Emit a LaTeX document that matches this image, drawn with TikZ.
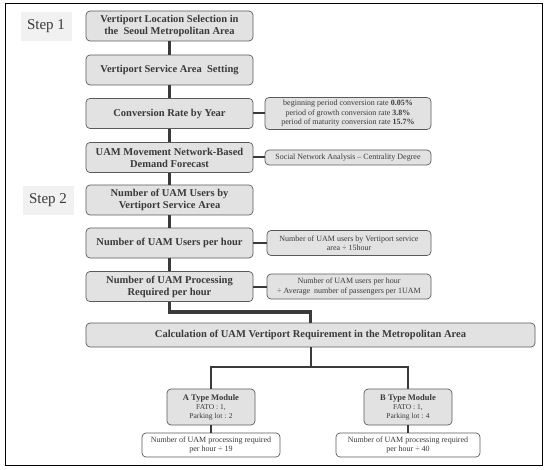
\documentclass[tikz,border=0pt]{standalone}
\usepackage{fontspec}
\setmainfont{Liberation Serif}
\usepackage{tikz}

\definecolor{boxfill}{HTML}{E2E2E2}
\definecolor{boxline}{HTML}{5A5A5A}
\definecolor{linkcol}{HTML}{3A3A3A}
\definecolor{stepfill}{HTML}{F1F1F1}

\begin{document}
\begin{tikzpicture}[
      x = 1pt, y = -1pt,
      every node/.style = {
        draw = boxline, line width = .7pt, rounded corners = 4pt,
        fill = boxfill, align = center, inner sep = 1pt},
      mainbox/.style = {
        minimum width = 167pt, minimum height = 30pt,
        font = \fontsize{10.5}{12}\selectfont\bfseries},
      notebox/.style = {
        minimum width = 166pt, minimum height = 15pt,
        font = \fontsize{8}{9.5}\selectfont},
      stepbox/.style = {
        draw = none, fill = stepfill, rounded corners = 0pt,
        minimum width = 51pt, minimum height = 29pt,
        font = \fontsize{15}{17}\selectfont},
      modbox/.style = {
        minimum width = 88pt, minimum height = 36pt,
        font = \fontsize{7.5}{9}\selectfont},
      resbox/.style = {
        fill = white, minimum height = 24pt,
        font = \fontsize{8}{9.5}\selectfont},
      every path/.style = {linkcol, line width = 2pt}
      ]
    \useasboundingbox (0,0) rectangle (548,470);
    \draw[line width = 1pt, black] (5,4) rectangle (542,465);
    \node[stepbox] (s1) at (46,26.5) {Step 1};
    \node[stepbox] (s2) at (48,200.5) {Step 2};
    \node[mainbox] (b1) at (169.5,26) {Vertiport Location Selection in\\the\ \ Seoul Metropolitan Area}; % 0
    \node[mainbox] (b2) at (169.5,70) {Vertiport Service Area\ \ Setting}; % 1
    \node[mainbox] (b3) at (169.5,113.5) {Conversion Rate by Year}; % 2
    \node[mainbox] (b4) at (169.5,157.5) {UAM Movement Network-Based\\Demand Forecast}; % 3
    \node[mainbox] (b5) at (169.5,200) {Number of UAM Users by\\Vertiport Service Area}; % 4
    \node[mainbox] (b6) at (169.5,243) {Number of UAM Users per hour}; % 5
    \node[mainbox] (b7) at (169.5,286.5) {Number of UAM Processing\\Required per hour}; % 6
    \node[notebox, minimum height = 32pt] (n1) at (348,113.5) {beginning period conversion rate \textbf{0.05\%}\\period of growth conversion rate \textbf{3.8\%}\\period of maturity conversion rate \textbf{15.7\%}};
    \node[notebox] (n2) at (348,157.5) {Social Network Analysis -- Centrality Degree};
    \node[notebox, minimum width = 164pt, minimum height = 25pt] (n3) at (349,243) {Number of UAM users by Vertiport service\\area ÷ 15hour};
    \node[notebox, minimum width = 164pt, minimum height = 25pt] (n4) at (349,286.5) {Number of UAM users per hour\\÷ Average\ \ number of passengers per 1UAM};
    \node[mainbox, minimum width = 449pt, minimum height = 24pt] (calc) at (310.5,335) {Calculation of UAM Vertiport Requirement in the Metropolitan Area};
    \node[modbox] (ma) at (211,407) {\textbf{\fontsize{8.5}{10}\selectfont A Type Module}\\FATO : 1,\\Parking lot : 2};
    \node[modbox] (mb) at (408,407) {\textbf{\fontsize{8.5}{10}\selectfont B Type Module}\\FATO : 1,\\Parking lot : 4};
    \node[resbox, minimum width = 138pt] (ra) at (211,445) {Number of UAM processing required\\per hour ÷ 19};
    \node[resbox, minimum width = 144pt] (rb) at (408,445) {Number of UAM processing required\\per hour ÷ 40};
    \coordinate (j1) at (310.5,312);
    \coordinate (j2) at (310.5,367);
    \begin{scope}[every path/.style={linkcol, line width = 3.5pt}]
      \draw (b1)--(b2);
      \draw (b2)--(b3);
      \draw (b3)--(b4);
      \draw (b4)--(b5);
      \draw (b5)--(b6);
      \draw (b6)--(b7);
      \draw (b7.south) |- (j1) -- (calc.north);
    \end{scope}
    \draw (b3)--(n1);
    \draw (b4)--(n2);
    \draw (b6)--(n3);
    \draw (b7)--(n4);
    \draw (calc.south)--(j2);
    \draw (j2) -| (ma.north);
    \draw (j2) -| (mb.north);
    \draw (ma)--(ra);
    \draw (mb)--(rb);
  \end{tikzpicture}
\end{document}
